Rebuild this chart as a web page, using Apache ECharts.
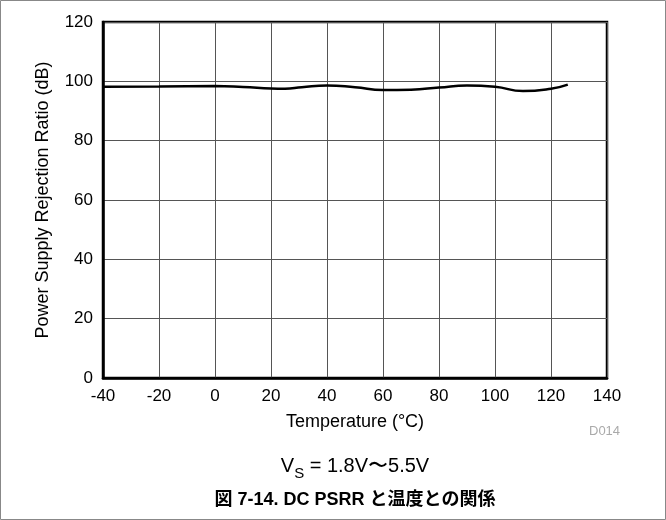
<!DOCTYPE html>
<html><head><meta charset="utf-8">
<script src="https://cdn.jsdelivr.net/npm/echarts@6/dist/echarts.min.js"></script>
<style>html,body{margin:0;padding:0;background:#fff}#c{width:666px;height:520px}</style>
</head><body><div id="c"></div>
<script>
const temperature = [-40, -20, 0, 10, 20, 25, 31, 40, 50, 60, 70, 80, 90, 100, 110, 120, 126];
const psrr = [98.2, 98.3, 98.4, 98.1, 97.6, 97.5, 98.0, 98.6, 98.0, 97.1, 97.2, 97.9, 98.6, 98.2, 96.7, 97.5, 98.9];
const xTicks = [-40, -20, 0, 20, 40, 60, 80, 100, 120, 140];
const yTicks = [0, 20, 40, 60, 80, 100, 120];
const yAxisTitle = 'Power Supply Rejection Ratio (dB)';
const xAxisTitle = 'Temperature (°C)';
const figId = 'D014';
const condition = ['V', 'S', ' = 1.8V〜5.5V'];
const caption = '図 7-14. DC PSRR と温度との関係';

const font = 'Arial, "Liberation Sans", Helvetica, sans-serif';
const chart = echarts.init(document.getElementById('c'), null, {renderer: 'canvas'});
chart.setOption({
  animation: false,
  backgroundColor: '#fff',
  grid: {left: 103, top: 22, width: 504, height: 356, show: true, borderColor: '#000', borderWidth: 2.5, backgroundColor: 'transparent'},
  xAxis: {
    type: 'value', min: xTicks[0], max: xTicks[xTicks.length - 1], interval: 20,
    axisLine: {show: true, onZero: false, lineStyle: {color: '#000', width: 2.5}},
    axisTick: {show: false},
    axisLabel: {color: '#000', fontSize: 17, fontFamily: font, margin: 10},
    splitLine: {show: true, lineStyle: {color: '#555', width: 1}},
    name: xAxisTitle, nameLocation: 'middle', nameGap: 35,
    nameTextStyle: {color: '#000', fontSize: 18, fontFamily: font}
  },
  yAxis: {
    type: 'value', min: yTicks[0], max: yTicks[yTicks.length - 1], interval: 20,
    axisLine: {show: true, onZero: false, lineStyle: {color: '#000', width: 2.5}},
    axisTick: {show: false},
    axisLabel: {color: '#000', fontSize: 17, fontFamily: font, margin: 10},
    splitLine: {show: true, lineStyle: {color: '#555', width: 1}},
    name: yAxisTitle, nameLocation: 'middle', nameGap: 51, nameRotate: 90,
    nameTextStyle: {color: '#000', fontSize: 18, fontFamily: font}
  },
  series: [{
    type: 'line', data: temperature.map((t, i) => [t, psrr[i]]),
    smooth: 0.5, showSymbol: false, lineStyle: {color: '#000', width: 2.5}
  }],
  graphic: [
    {type: 'rect', shape: {x: 0.5, y: 0.5, width: 665, height: 519}, style: {fill: 'none', stroke: '#888', lineWidth: 1}, silent: true},
    {type: 'text', left: 589, top: 425, style: {text: figId, fill: '#aaa', fontSize: 13, fontFamily: font}},
    {type: 'text', x: 355, y: 466, style: {
      text: '{a|' + condition[0] + '}{s|' + condition[1] + '}{a|' + condition[2] + '}',
      textAlign: 'center', textVerticalAlign: 'middle',
      rich: {a: {fontSize: 20, fontFamily: font, fill: '#000', verticalAlign: 'bottom'},
             s: {fontSize: 15, fontFamily: font, fill: '#000', verticalAlign: 'bottom', padding: [0, 0, -5, 0]}}
    }},
    {type: 'text', x: 355, y: 500, style: {text: caption, fill: '#000', fontSize: 18, fontWeight: 'bold', textAlign: 'center', textVerticalAlign: 'middle', fontFamily: font + ', "Noto Sans CJK JP"'}}
  ]
});
</script></body></html>
